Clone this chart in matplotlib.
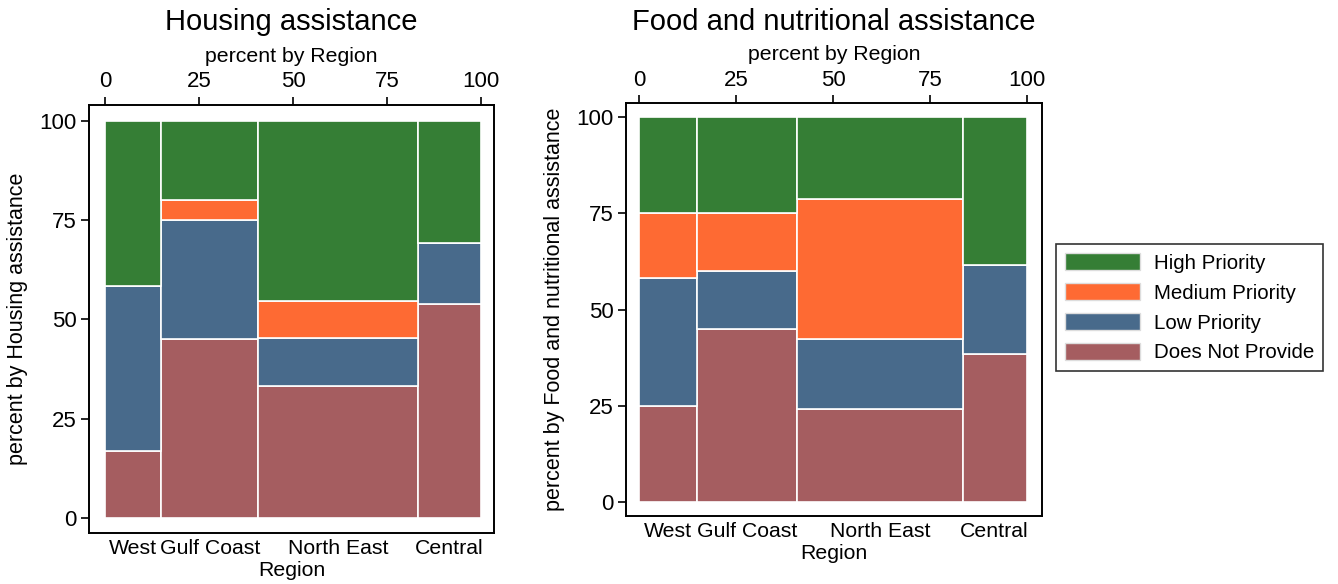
import numpy as np
import matplotlib.pyplot as plt
from matplotlib.patches import Patch

plt.rcParams['font.family'] = ['Liberation Sans', 'DejaVu Sans']

# Data
regions = ['West', 'Gulf Coast', 'North East', 'Central']
region_share = [15.0, 25.8, 42.6, 16.6]          # column widths, percent by Region
levels = ['Does Not Provide', 'Low Priority', 'Medium Priority', 'High Priority']
colors = ['#a55d60', '#486a8b', '#fe6a33', '#357e35']

# percent within each region, order: Does Not Provide, Low, Medium, High
housing_dnp = [16.7, 45.0, 33.3, 53.8]
housing_low = [41.7, 30.0, 12.1, 15.4]
housing_med = [0.0, 5.0, 9.1, 0.0]
housing_high = [41.6, 20.0, 45.5, 30.8]

food_dnp = [25.0, 45.0, 24.2, 38.5]
food_low = [33.3, 15.0, 18.2, 23.1]
food_med = [16.7, 15.0, 36.4, 0.0]
food_high = [25.0, 25.0, 21.2, 38.4]


def mosaic(ax, series, ylabel, xlim, ylim):
    widths = np.array(region_share)
    lefts = np.concatenate([[0], np.cumsum(widths)[:-1]])
    bottom = np.zeros(len(regions))
    for vals, col in zip(series, colors):
        vals = np.array(vals)
        ax.bar(lefts, vals, width=widths, bottom=bottom, align='edge',
               color=col, edgecolor='white', linewidth=1.2)
        bottom += vals
    ax.set_xlim(*xlim)
    ax.set_ylim(*ylim)
    ax.set_xticks(lefts + widths / 2)
    ax.set_xticklabels(regions, fontsize=15.3)
    ax.tick_params(axis='x', length=0, pad=4)
    ax.set_xlabel('Region', fontsize=15.3, labelpad=2.5)
    ax.set_yticks([0, 25, 50, 75, 100])
    ax.tick_params(axis='y', labelsize=16, length=6, width=1.2, pad=3)
    ax.set_ylabel(ylabel, fontsize=15.5, labelpad=8)
    for s in ax.spines.values():
        s.set_linewidth(1.4)
    top = ax.secondary_xaxis('top')
    top.set_xticks([0, 25, 50, 75, 100])
    top.tick_params(labelsize=16, length=6, width=1.2, pad=3)
    top.set_xlabel('percent by Region', fontsize=15.3, labelpad=7)
    top.spines['top'].set_visible(False)


fig = plt.figure(figsize=(13.38, 5.84), dpi=100)
ax1 = fig.add_axes([0.0665, 0.0873, 0.3027, 0.733])
ax2 = fig.add_axes([0.4679, 0.1164, 0.311, 0.707])

mosaic(ax1, [housing_dnp, housing_low, housing_med, housing_high],
       'percent by Housing assistance', (-4.3, 103.5), (-3.85, 104.0))
mosaic(ax2, [food_dnp, food_low, food_med, food_high],
       'percent by Food and nutritional assistance', (-3.4, 103.95), (-3.55, 103.55))

fig.text(0.218, 0.962, 'Housing assistance', ha='center', va='center', fontsize=21)
fig.text(0.6234, 0.962, 'Food and nutritional assistance', ha='center', va='center', fontsize=21)

handles = [Patch(facecolor=c, edgecolor='#dddddd') for c in colors[::-1]]
leg = fig.legend(handles, levels[::-1], loc='center left',
                 bbox_to_anchor=(0.789, 0.473), borderaxespad=0, fontsize=14.8,
                 frameon=True, fancybox=False, edgecolor='black',
                 handlelength=3.65, handleheight=0.9, labelspacing=0.5,
                 borderpad=0.44, handletextpad=0.68)
leg.get_frame().set_linewidth(1.2)

fig.savefig('out.png', dpi=100)
